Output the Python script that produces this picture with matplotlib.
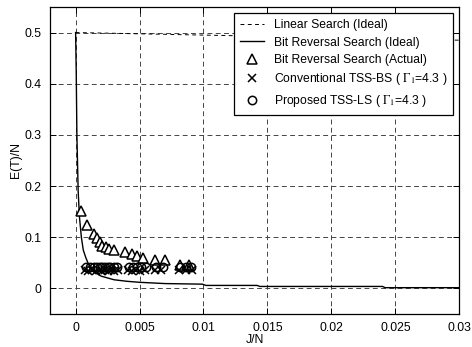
import numpy as np
import matplotlib
matplotlib.use("Agg")
import matplotlib.pyplot as plt

# ─────────────────────────────────────────────
# DATA
# ─────────────────────────────────────────────
linear_x = [0.0, 0.03]
linear_y = [0.5, 0.485]

bitrev_x = [0.0, 0.00005, 0.0001, 0.0002, 0.0003, 0.00045, 0.0006, 0.0008, 0.001,
            0.0013, 0.0016, 0.002, 0.003, 0.004, 0.005, 0.007, 0.0099, 0.0102,
            0.0142, 0.0144, 0.0240, 0.0242, 0.03]
bitrev_y = [0.5, 0.42, 0.3, 0.19, 0.14, 0.1, 0.075, 0.06, 0.048,
            0.037, 0.03, 0.024, 0.017, 0.014, 0.012, 0.0095, 0.0084, 0.0059,
            0.0059, 0.0039, 0.0039, 0.0015, 0.0015]

actual_x = [0.00045, 0.0009, 0.00144, 0.00167, 0.0019, 0.0021, 0.0024, 0.0026, 0.003,
            0.0039, 0.0044, 0.0048, 0.0053, 0.0062, 0.007, 0.0082, 0.0089]
actual_y = [0.152, 0.124, 0.107, 0.099, 0.09, 0.083, 0.08, 0.077, 0.075,
            0.071, 0.067, 0.063, 0.060, 0.056, 0.055, 0.046, 0.045]

tss_bs_x = [0.0007, 0.001, 0.0013, 0.0016, 0.0019, 0.0021, 0.0023, 0.0025, 0.0027, 0.003,
            0.0033, 0.0041, 0.0044, 0.0047, 0.005, 0.0054, 0.0062, 0.0067, 0.0081,
            0.0086, 0.0091]
tss_bs_y = [0.036, 0.035, 0.036, 0.035, 0.036, 0.035, 0.036, 0.035, 0.036, 0.035,
            0.036, 0.036, 0.035, 0.036, 0.035, 0.036, 0.037, 0.036, 0.037,
            0.036, 0.036]

tss_ls_x = [0.0008, 0.0011, 0.0014, 0.0017, 0.0019, 0.0021, 0.0023, 0.0025, 0.0027, 0.003,
            0.0032, 0.0042, 0.0045, 0.0048, 0.0051, 0.0055, 0.0063, 0.0068, 0.0082,
            0.0086, 0.009]
tss_ls_y = [0.042, 0.042, 0.041, 0.042, 0.041, 0.042, 0.041, 0.042, 0.041, 0.042,
            0.041, 0.042, 0.041, 0.042, 0.041, 0.042, 0.042, 0.041, 0.042,
            0.041, 0.041]

x_ticks = [0, 0.005, 0.01, 0.015, 0.02, 0.025, 0.03]
x_ticklabels = ["0", "0.005", "0.01", "0.015", "0.02", "0.025", "0.03"]
y_ticks = [0, 0.1, 0.2, 0.3, 0.4, 0.5]
y_ticklabels = ["0", "0.1", "0.2", "0.3", "0.4", "0.5"]

# ─────────────────────────────────────────────
# STYLE
# ─────────────────────────────────────────────
plt.rcParams["font.family"] = ["Liberation Sans", "DejaVu Sans"]
plt.rcParams["mathtext.fontset"] = "stix"
plt.rcParams["font.size"] = 8.8

fig = plt.figure(figsize=(4.72, 3.47), dpi=100)
ax = fig.add_axes([0.106, 0.095, 0.867, 0.885])

ax.plot(linear_x, linear_y, color="black", linestyle=(0, (4, 3.5)), linewidth=0.7,
        label="Linear Search (Ideal)")
ax.plot(bitrev_x, bitrev_y, color="black", linewidth=1.0,
        label="Bit Reversal Search (Ideal)")
ax.plot(actual_x, actual_y, linestyle="none", marker="^", markersize=6.5,
        markerfacecolor="white", markeredgecolor="black", markeredgewidth=1.1,
        label="Bit Reversal Search (Actual)")
ax.plot(tss_bs_x, tss_bs_y, linestyle="none", marker="x", markersize=6,
        color="black", markeredgewidth=1.1,
        label=r"Conventional TSS-BS ( $\Gamma_1$=4.3 )")
ax.plot(tss_ls_x, tss_ls_y, linestyle="none", marker="o", markersize=6,
        markerfacecolor="none", markeredgecolor="black", markeredgewidth=1.1,
        label=r"Proposed TSS-LS ( $\Gamma_1$=4.3 )")

ax.set_xlim(-0.002, 0.03)
ax.set_ylim(-0.05, 0.55)
ax.set_xticks(x_ticks)
ax.set_xticklabels(x_ticklabels)
ax.set_yticks(y_ticks)
ax.set_yticklabels(y_ticklabels)
ax.set_xlabel("J/N", labelpad=0)
ax.set_ylabel("E(T)/N", labelpad=2)

ax.grid(True, color="#444444", linestyle=(0, (5, 3.5)), linewidth=0.7)
ax.tick_params(direction="in", top=True, right=True, length=4, width=0.7, pad=6)
for sp in ax.spines.values():
    sp.set_linewidth(0.9)

leg = ax.legend(loc="upper right", bbox_to_anchor=(0.985, 0.98), borderaxespad=0,
                fancybox=False, edgecolor="black", framealpha=1, fontsize=8.7,
                handlelength=2.0, handletextpad=0.8, labelspacing=0.45, borderpad=0.5)
leg.get_frame().set_linewidth(0.9)

plt.savefig("out.png", dpi=100)
